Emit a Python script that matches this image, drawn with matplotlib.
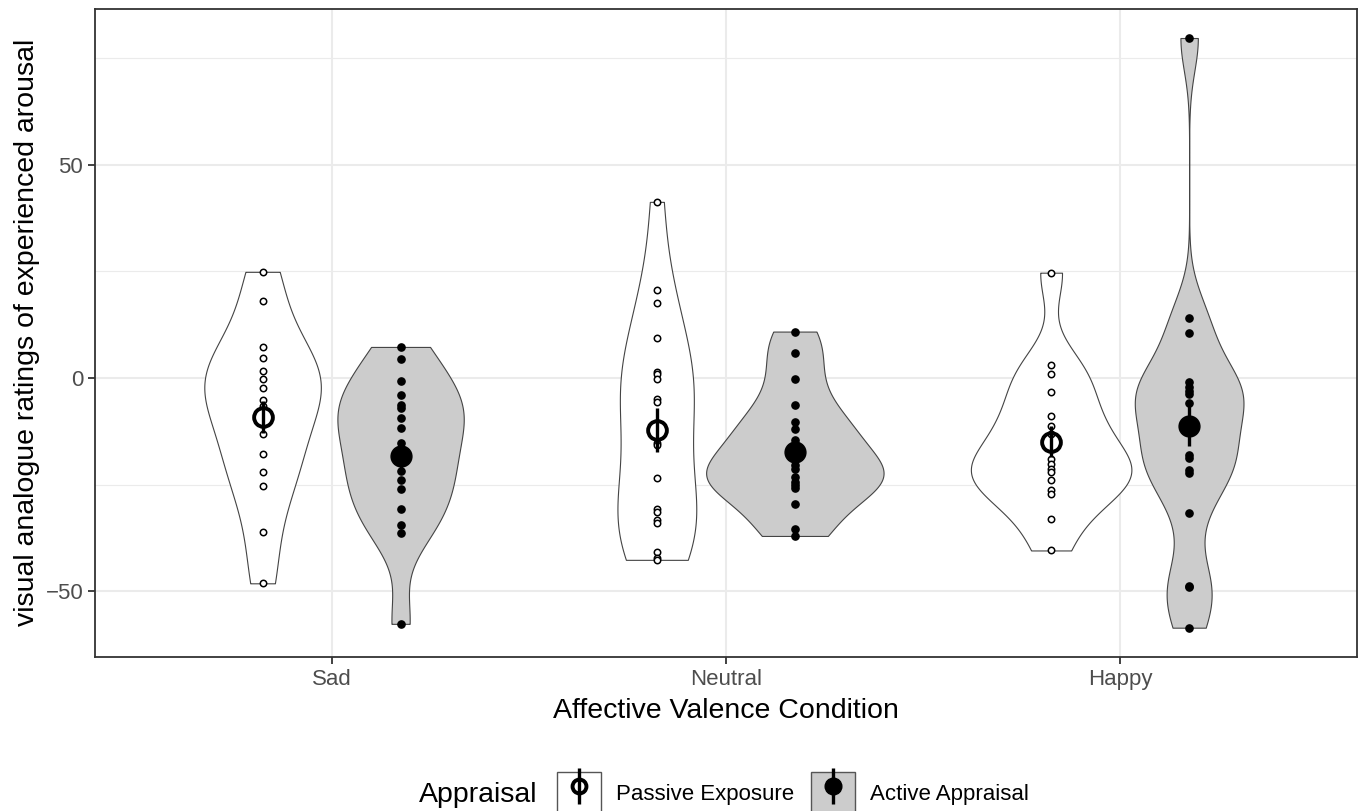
import matplotlib.pyplot as plt
import numpy as np
from matplotlib.lines import Line2D
from matplotlib.patches import Patch
from matplotlib.legend_handler import HandlerTuple

plt.rcParams["font.family"] = ["Liberation Sans", "DejaVu Sans"]

# 資料
conditions = ["Sad", "Neutral", "Happy"]
appraisals = ["Passive Exposure", "Active Appraisal"]

sad_passive = [24.9, 18.0, 7.2, 4.8, 1.7, -0.1, -2.3, -5.2, -6.6, -13.2,
               -17.8, -21.9, -25.4, -36.1, -48.1]
sad_active = [7.3, 4.4, -0.6, -4.0, -6.3, -7.1, -9.3, -11.6, -15.1, -18.5,
              -21.7, -24.0, -26.1, -30.7, -34.4, -36.2, -57.6]
neutral_passive = [41.3, 20.6, 17.7, 9.4, 1.5, 0.9, -0.1, -4.8, -5.5, -15.1,
                   -15.7, -23.5, -30.8, -31.4, -33.3, -33.9, -40.8, -42.1, -42.6]
neutral_active = [10.9, 5.9, -0.3, -6.4, -10.4, -11.9, -14.5, -17.5, -20.4,
                  -21.2, -23.1, -24.3, -25.1, -25.8, -29.6, -35.4, -37.0]
happy_passive = [24.7, 3.0, 0.9, -3.3, -8.9, -11.2, -13.0, -19.0, -20.1, -21.2,
                 -22.1, -23.9, -26.2, -27.2, -33.1, -40.4]
happy_active = [79.7, 14.0, 10.6, -0.9, -2.2, -3.0, -3.7, -5.9, -11.5, -18.0,
                -18.8, -21.5, -22.3, -31.7, -48.7, -49.0, -58.5]

means_passive = [-9.1, -12.2, -14.9]
means_active = [-18.2, -17.3, -11.2]
err_passive = [3.7, 5.1, 3.7]
err_active = [3.5, 3.0, 4.7]

passive_data = [sad_passive, neutral_passive, happy_passive]
active_data = [sad_active, neutral_active, happy_active]


def nrd0(x):
    # R 的 bw.nrd0
    x = np.asarray(x, dtype=float)
    sd = x.std(ddof=1)
    q75, q25 = np.percentile(x, [75, 25])
    lo = min(sd, (q75 - q25) / 1.34)
    return 0.9 * lo * len(x) ** -0.2


def density(x, n=512):
    x = np.asarray(x, dtype=float)
    bw = nrd0(x)
    grid = np.linspace(x.min(), x.max(), n)
    z = (grid[:, None] - x[None, :]) / bw
    d = np.exp(-0.5 * z ** 2).sum(axis=1) / (len(x) * bw * np.sqrt(2 * np.pi))
    return grid, d


dodge = 0.175
violin_width = 0.45
line_col = "#333333"
fills = ["white", "#CCCCCC"]

dens = {}
for i in range(3):
    dens[(i, 0)] = density(passive_data[i])
    dens[(i, 1)] = density(active_data[i])
gmax = max(d.max() for _, d in dens.values())

fig = plt.figure(figsize=(13.59, 8.11), dpi=100)
ax = fig.add_axes([95 / 1359, 1 - 656.7 / 811, 1261.7 / 1359, (656.7 - 9) / 811])

# 小提琴
for (i, g), (grid, d) in dens.items():
    xc = i + 1 + (-dodge if g == 0 else dodge)
    half = d / gmax * violin_width / 2
    ax.fill_betweenx(grid, xc - half, xc + half, facecolor=fills[g],
                     edgecolor="#444444", linewidth=0.8, zorder=2)

# 個別資料點
for i in range(3):
    xp = np.full(len(passive_data[i]), i + 1 - dodge)
    xa = np.full(len(active_data[i]), i + 1 + dodge)
    ax.plot(xp, passive_data[i], "o", ms=4.6, mfc="white", mec="black",
            mew=1.1, ls="", zorder=3)
    ax.plot(xa, active_data[i], "o", ms=5.2, mfc="black", mec="black",
            ls="", zorder=3)

# 平均與誤差
xs = np.arange(1, 4)
ax.errorbar(xs - dodge, means_passive, yerr=err_passive, fmt="none",
            ecolor="black", elinewidth=2.4, capsize=0, zorder=4)
ax.errorbar(xs + dodge, means_active, yerr=err_active, fmt="none",
            ecolor="black", elinewidth=2.4, capsize=0, zorder=4)
ax.plot(xs - dodge, means_passive, "o", ms=13.5, mfc="none", mec="black",
        mew=2.8, ls="", zorder=5)
ax.plot(xs + dodge, means_active, "o", ms=15, mfc="black", mec="black",
        ls="", zorder=5)

ax.set_xlim(0.4, 3.6)
ax.set_ylim(-65.3, 86.5)
ax.set_xticks(xs)
ax.set_xticklabels(conditions)
ax.set_yticks([-50, 0, 50])
ax.set_yticks([-25, 25, 75], minor=True)
ax.grid(which="major", color="#EBEBEB", linewidth=1.5, zorder=0)
ax.grid(which="minor", axis="y", color="#EBEBEB", linewidth=0.8, zorder=0)
ax.set_axisbelow(True)
ax.tick_params(which="major", length=5, width=1.3, color=line_col,
               labelcolor="#4D4D4D", labelsize=16, pad=3.5)
ax.tick_params(which="minor", length=0)
for s in ax.spines.values():
    s.set_color(line_col)
    s.set_linewidth(1.3)

ax.set_xlabel("Affective Valence Condition", fontsize=20.5, labelpad=6)
ax.set_ylabel("visual analogue ratings of experienced arousal", fontsize=20.5,
              labelpad=4)

# 圖例
handles = [
    (Patch(facecolor=fills[0], edgecolor="#555555", linewidth=1.0),
     Line2D([], [], color="black", marker="|", ms=26, mew=2.4, ls=""),
     Line2D([], [], color="black", marker="o", ms=10, mfc="none", mec="black",
            mew=2.8, ls="")),
    (Patch(facecolor=fills[1], edgecolor="#555555", linewidth=1.0),
     Line2D([], [], color="black", marker="|", ms=26, mew=2.4, ls=""),
     Line2D([], [], color="black", marker="o", ms=12, mfc="black", ls="")),
]
fig.legend(handles, appraisals, handler_map={tuple: HandlerTuple(ndivide=1)},
           loc="center", bbox_to_anchor=(793 / 1359, (811 - 793) / 811),
           ncol=2, frameon=False, fontsize=16, handlelength=2.0,
           handleheight=2.5, handletextpad=0.68, columnspacing=0.72,
           borderpad=0, borderaxespad=0)
fig.text(537 / 1359, (811 - 802) / 811, "Appraisal", ha="right",
         va="baseline", fontsize=20.5)

fig.savefig("out.png", dpi=100)
